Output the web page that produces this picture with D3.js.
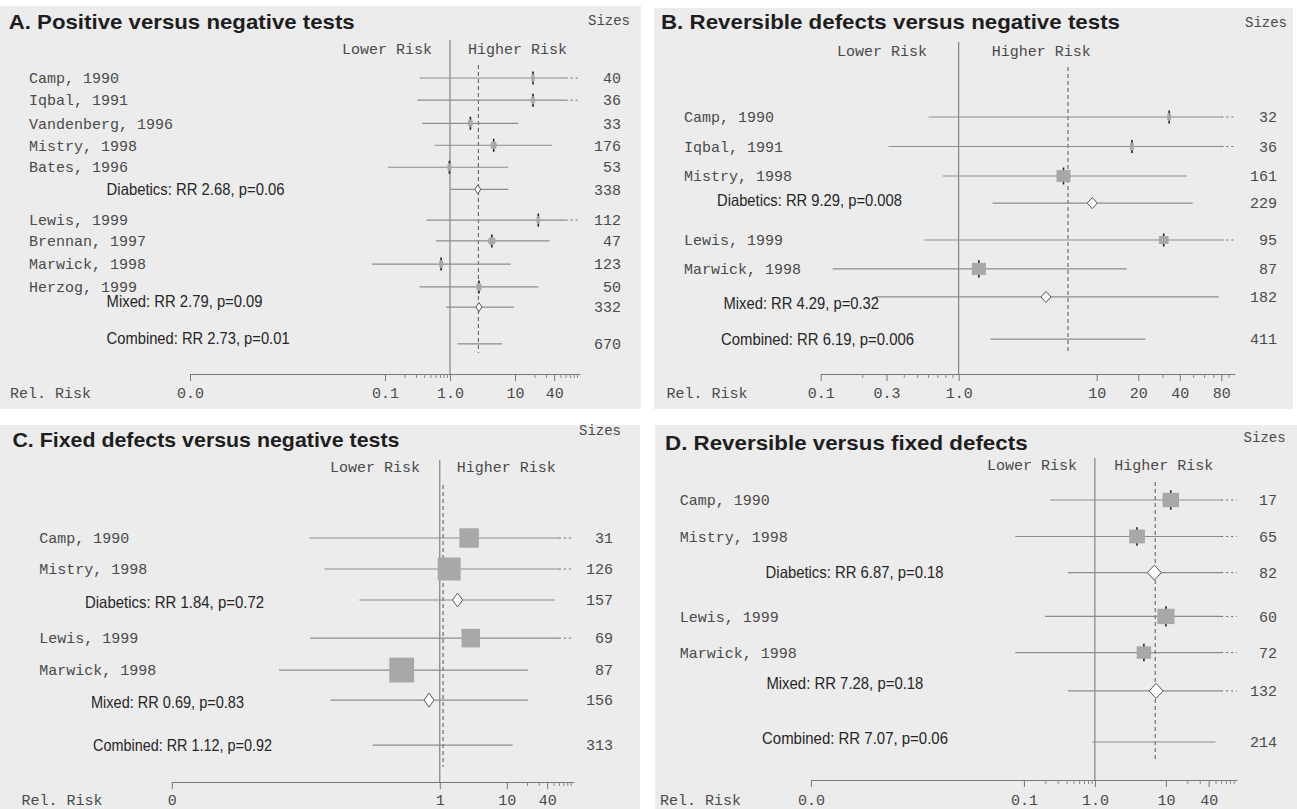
<!DOCTYPE html>
<html><head><meta charset="utf-8">
<script src="https://cdn.jsdelivr.net/npm/d3@7"></script>
<style>body{margin:0;background:#fff} svg{display:block}</style>
</head><body><svg id="c" width="1297" height="809"></svg>
<script>
// ---------------- DATA ----------------
const titles = ["A. Positive versus negative tests","B. Reversible defects versus negative tests","C. Fixed defects versus negative tests","D. Reversible versus fixed defects"];

// Panel A
const namesA = ["Camp, 1990","Iqbal, 1991","Vandenberg, 1996","Mistry, 1998","Bates, 1996","Diabetics: RR 2.68, p=0.06","Lewis, 1999","Brennan, 1997","Marwick, 1998","Herzog, 1999","Mixed: RR 2.79, p=0.09","Combined: RR 2.73, p=0.01"];
const kindsA = ["s","s","s","s","s","d","s","s","s","s","d","c"];
const rrA = [18.9,18.9,2.06,4.7,0.98,2.68,22.8,4.4,0.73,2.79,2.79,2.73];
const loA = [0.34,0.315,0.376,0.58,0.111,1.03,0.435,0.61,0.063,0.34,0.87,1.3];
const hiA = [150,150,11.3,37,7.9,7.9,150,34,8.6,22.8,9.7,6.3];
const sizesA = [40,36,33,176,53,338,112,47,123,50,332,670];
const weightsA = [3,3,6,9,4,null,3,14,4,7,null,null];
const tickValsA = [0.0001,0.1,1,10,40];
const tickLabelsA = ["0.0","0.1","1.0","10","40"];
const minorA = [0.2,0.3,0.4,0.5,0.6,0.7,0.8,0.9,20,30,50,60,70,80,90];

// Panel B
const namesB = ["Camp, 1990","Iqbal, 1991","Mistry, 1998","Diabetics: RR 9.29, p=0.008","Lewis, 1999","Marwick, 1998","Mixed: RR 4.29, p=0.32","Combined: RR 6.19, p=0.006"];
const kindsB = ["s","s","s","d","s","s","d","c"];
const rrB = [33.5,18,5.75,9.29,30.6,1.4,4.29,6.19];
const loB = [0.605,0.31,0.77,1.76,0.565,0.122,0.247,1.7];
const hiB = [150,150,45,49.6,150,16.5,76.6,22.5];
const sizesB = [32,36,161,229,95,87,182,411];
const weightsB = [4,4,49,null,23,50,null,null];
const tickValsB = [0.1,0.3,1,10,20,40,80];
const tickLabelsB = ["0.1","0.3","1.0","10","20","40","80"];
const minorB = [0.2,0.4,0.5,0.6,0.7,0.8,0.9,30,50,60,70,90];

// Panel C
const namesC = ["Camp, 1990","Mistry, 1998","Diabetics: RR 1.84, p=0.72","Lewis, 1999","Marwick, 1998","Mixed: RR 0.69, p=0.83","Combined: RR 1.12, p=0.92"];
const kindsC = ["s","s","d","s","s","d","c"];
const rrC = [2.74,1.38,1.84,2.9,0.27,0.69,1.12];
const loC = [0.0114,0.019,0.063,0.0117,0.004,0.0233,0.1];
const hiC = [150,150,52,150,20.7,20.7,12.2];
const sizesC = [31,126,157,69,87,156,313];
const weightsC = [95,132,null,86,154,null,null];
const tickValsC = [0.0001,1,10,40];
const tickLabelsC = ["0","1","10","40"];
const minorC = [20,30,50,60,70,80,90];

// Panel D
const namesD = ["Camp, 1990","Mistry, 1998","Diabetics: RR 6.87, p=0.18","Lewis, 1999","Marwick, 1998","Mixed: RR 7.28, p=0.18","Combined: RR 7.07, p=0.06"];
const kindsD = ["s","s","d","s","s","d","c"];
const rrD = [11.7,3.92,6.87,10,4.9,7.28,7.07];
const loD = [0.235,0.0757,0.418,0.198,0.0757,0.418,0.92];
const hiD = [150,150,150,150,150,150,49.8];
const sizesD = [17,65,82,60,72,132,214];
const weightsD = [68,62,null,75,52,null,null];
const tickValsD = [0.0001,0.1,1,10,40];
const tickLabelsD = ["0.0","0.1","1.0","10","40"];
const minorD = [0.2,0.3,0.4,0.5,0.6,0.7,0.8,0.9,20,30,50,60,70,80,90];

// ---------------- LAYOUT ----------------
const layoutA = {bg:[0,6,641,403], domain:[0.0001,100], x1:450, dec:65,
  titleX:8.7, titleY:29, titleW:346, hdrRight:630, hdrY:20, riskY:49, lowerGap:18, higherGap:18,
  vTop:40, axisY:374, dashTop:65, dashBottom:353, labelX:29, sumX:[106.6,106.6,106.6], sumW:[178,156,183], sumDy:[0,-6,-6],
  nRight:621, y0:78, step:22.2, slots:[0,1,2.04,3.03,4.02,5.02,6.4,7.34,8.38,9.41,10.32,11.98], relX:10,
  markerTicks:true, diamond:[3,4.5], solidMax:60, labelDy:19};
const layoutB = {bg:[654,8,639,401], domain:[0.1,100], x1:958.7, dec:138,
  titleX:661, titleY:29, titleW:459, hdrRight:1287, hdrY:22.5, riskY:51, lowerGap:31.7, higherGap:33,
  vTop:42, axisY:374, dashTop:67, dashBottom:353, labelX:684, sumX:[717,723.5,721], sumW:[185,155.5,193], sumDy:[-3,6,0],
  nRight:1277, y0:117, step:29.5, slots:[0,1,2,2.92,4.17,5.15,6.1,7.53], relX:666.5,
  markerTicks:true, diamond:[5,5.5], solidMax:80, labelDy:19};
const layoutC = {bg:[0,425,640,384], domain:[0.0001,100], x1:439.8, dec:67,
  titleX:12.4, titleY:447, titleW:387, hdrRight:621, hdrY:430, riskY:467, lowerGap:19.8, higherGap:17,
  vTop:460, axisY:782, dashTop:485, dashBottom:767, labelX:39.3, sumX:[85,91,93], sumW:[179,153,179], sumDy:[2,2,0],
  nRight:613, y0:538, step:31, slots:[0,1,2,3.23,4.26,5.23,6.68], relX:21.5,
  markerTicks:false, diamond:[5,7], solidMax:60, labelDy:18};
const layoutD = {bg:[655,425,642,384], domain:[0.0001,100], x1:1094.9, dec:71,
  titleX:665, titleY:450, titleW:362.6, hdrRight:1285.6, hdrY:437, riskY:465, lowerGap:18, higherGap:19.4,
  vTop:458, axisY:780, dashTop:482, dashBottom:762, labelX:679.7, sumX:[765.6,766.4,762], sumW:[178,157,186], sumDy:[0,-8,-4],
  nRight:1277, y0:500, step:36.5, slots:[0,1,1.99,3.19,4.18,5.23,6.63], relX:660,
  markerTicks:true, diamond:[7,7.5], solidMax:60, labelDy:20};

const panels = [
  {title:titles[0], names:namesA, kinds:kindsA, rr:rrA, lo:loA, hi:hiA, n:sizesA, w:weightsA, ticks:tickValsA, tickLabels:tickLabelsA, minor:minorA, L:layoutA},
  {title:titles[1], names:namesB, kinds:kindsB, rr:rrB, lo:loB, hi:hiB, n:sizesB, w:weightsB, ticks:tickValsB, tickLabels:tickLabelsB, minor:minorB, L:layoutB},
  {title:titles[2], names:namesC, kinds:kindsC, rr:rrC, lo:loC, hi:hiC, n:sizesC, w:weightsC, ticks:tickValsC, tickLabels:tickLabelsC, minor:minorC, L:layoutC},
  {title:titles[3], names:namesD, kinds:kindsD, rr:rrD, lo:loD, hi:hiD, n:sizesD, w:weightsD, ticks:tickValsD, tickLabels:tickLabelsD, minor:minorD, L:layoutD}
];

// ---------------- STYLE ----------------
const BG = "#ececec";
const MONO = "'Liberation Mono','DejaVu Sans Mono',monospace";
const SANS = "'Liberation Sans Narrow','Liberation Sans',Arial,sans-serif";
const SANSB = "'Liberation Sans',Arial,sans-serif";
const MONO_COL = "#4a4a4a";
const LINE_COL = "#8c8c8c";

const svg = d3.select("#c");

panels.forEach(drawPanel);

function drawPanel(p) {
  const L = p.L;
  const g = svg.append("g");
  g.append("rect").attr("x",L.bg[0]).attr("y",L.bg[1]).attr("width",L.bg[2]).attr("height",L.bg[3]).attr("fill",BG);

  const x = d3.scaleLog().domain(L.domain)
    .range([L.x1 + Math.log10(L.domain[0]) * L.dec, L.x1 + Math.log10(L.domain[1]) * L.dec]);
  const ys = d3.scaleLinear().domain([0,1]).range([L.y0, L.y0 + L.step]);
  const rowY = i => ys(L.slots[i]);

  // title
  g.append("text").attr("x",L.titleX).attr("y",L.titleY)
    .attr("font-family",SANSB).attr("font-weight","bold").attr("font-size",21)
    .attr("fill","#1e1e1e").attr("textLength",L.titleW).attr("lengthAdjust","spacingAndGlyphs")
    .text(p.title);
  // Sizes header
  g.append("text").attr("x",L.hdrRight).attr("y",L.hdrY).attr("dy","0.35em")
    .attr("text-anchor","end").attr("font-family",MONO).attr("font-size",14).attr("fill",MONO_COL).text("Sizes");
  // risk labels
  g.append("text").attr("x",x(1) - L.lowerGap).attr("y",L.riskY).attr("dy","0.35em")
    .attr("text-anchor","end").attr("font-family",MONO).attr("font-size",15).attr("fill",MONO_COL).text("Lower Risk");
  g.append("text").attr("x",x(1) + L.higherGap).attr("y",L.riskY).attr("dy","0.35em")
    .attr("text-anchor","start").attr("font-family",MONO).attr("font-size",15).attr("fill",MONO_COL).text("Higher Risk");

  // reference line at RR = 1
  g.append("line").attr("x1",x(1)).attr("x2",x(1)).attr("y1",L.vTop).attr("y2",L.axisY)
    .attr("stroke","#6e6e6e").attr("stroke-width",1);
  // dashed line at combined RR
  const ci = p.kinds.indexOf("c");
  g.append("line").attr("x1",x(p.rr[ci])).attr("x2",x(p.rr[ci])).attr("y1",L.dashTop).attr("y2",L.dashBottom)
    .attr("stroke","#555").attr("stroke-width",1).attr("stroke-dasharray","4,3");

  // axis
  const ax = g.append("g").attr("transform",`translate(0,${L.axisY})`)
    .call(d3.axisBottom(x).tickValues(p.ticks).tickFormat((d,i)=>p.tickLabels[i])
      .tickSize(7).tickSizeOuter(0).tickPadding(L.labelDy - 13));
  ax.select(".domain").attr("stroke","#777");
  ax.selectAll(".tick line").attr("stroke","#777");
  ax.selectAll(".tick text").attr("font-family",MONO).attr("font-size",15).attr("fill",MONO_COL);
  const axm = g.append("g").attr("transform",`translate(0,${L.axisY})`)
    .call(d3.axisBottom(x).tickValues(p.minor).tickFormat("").tickSize(4).tickSizeOuter(0));
  axm.select(".domain").remove();
  axm.selectAll(".tick line").attr("stroke","#888");
  g.append("text").attr("x",L.relX).attr("y",L.axisY + L.labelDy).attr("dy","0.35em")
    .attr("font-family",MONO).attr("font-size",15).attr("fill",MONO_COL).text("Rel. Risk");

  // rows
  const dMax = L.domain[1];
  let k = 0;
  p.names.forEach((name, i) => {
    const yy = rowY(i);
    const kind = p.kinds[i];
    const hiSolid = Math.min(p.hi[i], L.solidMax);
    g.append("line").attr("x1",x(p.lo[i])).attr("x2",x(hiSolid)).attr("y1",yy).attr("y2",yy)
      .attr("stroke",LINE_COL).attr("stroke-width",1.2);
    if (p.hi[i] > L.solidMax) {
      g.append("line").attr("x1",x(L.solidMax)).attr("x2",x(Math.min(p.hi[i], dMax))).attr("y1",yy).attr("y2",yy)
        .attr("stroke","#666").attr("stroke-width",1).attr("stroke-dasharray","2,3");
    }
    if (kind === "s") {
      const s = 2 * Math.sqrt(p.w[i]);
      const h = Math.max(s, 10);
      const cx = x(p.rr[i]);
      if (L.markerTicks) {
        g.append("line").attr("x1",cx).attr("x2",cx).attr("y1",yy - h/2 - 1.5).attr("y2",yy + h/2 + 1.5)
          .attr("stroke","#222").attr("stroke-width",1.6);
      }
      g.append("rect").attr("x",cx - s/2).attr("y",yy - h/2 + (L.markerTicks ? 1 : 0))
        .attr("width",s).attr("height",h - (L.markerTicks ? 2 : 0))
        .attr("rx", s < 8 ? s/2 : 0).attr("fill","#a8a8a8");
      g.append("text").attr("x",L.labelX).attr("y",yy).attr("dy","0.35em")
        .attr("font-family",MONO).attr("font-size",15).attr("fill",MONO_COL).text(name);
    } else {
      if (kind === "d") {
        const cx = x(p.rr[i]), hw = L.diamond[0], hh = L.diamond[1];
        g.append("path").attr("d",`M${cx-hw},${yy}L${cx},${yy-hh}L${cx+hw},${yy}L${cx},${yy+hh}Z`)
          .attr("fill","#fff").attr("stroke","#555").attr("stroke-width",1);
      }
      g.append("text").attr("x",L.sumX[k]).attr("y",yy + L.sumDy[k]).attr("dy","0.35em")
        .attr("font-family",SANS).attr("font-size",16.5).attr("fill","#262626")
        .attr("textLength",L.sumW[k]).attr("lengthAdjust","spacingAndGlyphs").text(name);
      k++;
    }
    g.append("text").attr("x",L.nRight).attr("y",yy).attr("dy","0.35em").attr("text-anchor","end")
      .attr("font-family",MONO).attr("font-size",15).attr("fill",MONO_COL).text(p.n[i]);
  });
}
</script></body></html>
